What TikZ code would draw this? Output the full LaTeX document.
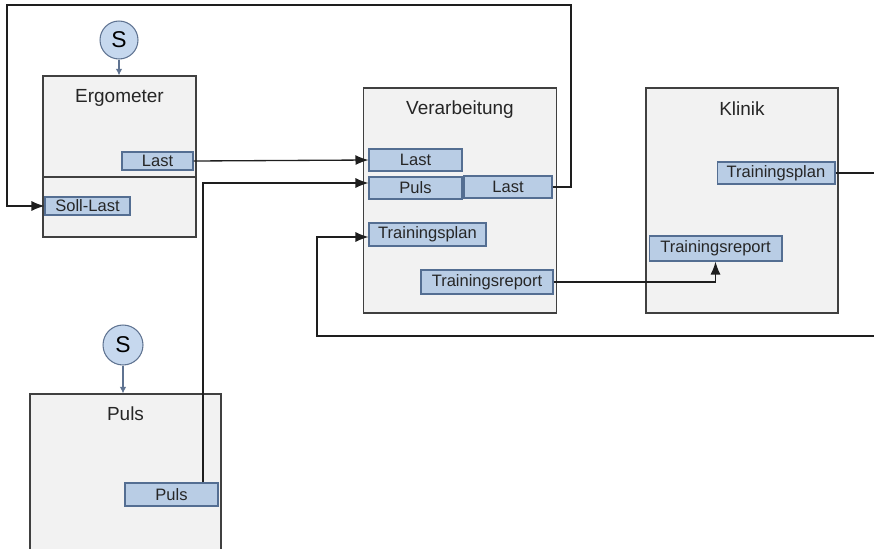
\documentclass[tikz,border=0pt]{standalone}
\usepackage{fontspec}
\setmainfont{Liberation Sans}
\usepackage{tikz}
\usetikzlibrary{shapes, arrows.meta, positioning}

\definecolor{boxfill}{RGB}{242,242,242}
\definecolor{boxline}{RGB}{64,64,64}
\definecolor{portfill}{RGB}{185,205,229}
\definecolor{portline}{RGB}{84,110,146}
\definecolor{srcfill}{RGB}{198,216,238}
\definecolor{srcline}{RGB}{95,115,145}
\definecolor{wire}{RGB}{30,30,30}

\tikzset{
  block/.style={draw=boxline, line width=0.7pt, fill=boxfill, rectangle, minimum width=38.6mm, minimum height=45mm},
  title/.style={inner sep=0pt, text=black!85, font=\fontsize{10.8}{13}\selectfont},
  port/.style={draw=portline, line width=0.6pt, fill=portfill, rectangle, minimum height=4.4mm, inner sep=1pt, text=black!85, font=\fontsize{9.4}{11}\selectfont},
  source/.style={draw=srcline, line width=0.6pt, fill=srcfill, circle, minimum size=7.8mm, inner sep=0pt, font=\fontsize{13}{15}\selectfont},
  flow/.style={draw=wire, line width=0.75pt, -{Latex[length=2.6mm,width=2mm]}},
  wireline/.style={draw=wire, line width=0.75pt},
  sig/.style={draw=srcline, line width=0.6pt, -{Latex[length=1.3mm,width=1.3mm]}}
}

\begin{document}
\begin{tikzpicture}[x=0.02cm, y=-0.02cm]
        \clip (0,0) rectangle (874,548);

        % Nodes
        \node (ergo) [block, minimum width=30.6mm, minimum height=32.2mm] at (119.5,156.5) {};
        \node (verar) [block] at (460,200.5) {};
        \node (klinik) [block, minimum width=38.4mm] at (742,200.5) {};
        \node (puls) [block, minimum width=38.2mm, minimum height=32.2mm] at (125.5,474.5) {};

        \node (ergotitle) [title, below=2.8mm of ergo.north] {Ergometer};
        \node (verartitle) [title, below=2.6mm of verar.north] {Verarbeitung};
        \node (klinictitle) [title, below=2.8mm of klinik.north] {Klinik};
        \node (pulstitle) [title, below=2.5mm of puls.north] {Puls};

        \draw[boxline, line width=0.7pt] ([yshift=-4.1mm]ergo.west) -- ([yshift=-4.1mm]ergo.east);

        % Ports
        \node (elast) [port, minimum width=14.2mm, minimum height=3.6mm] at (157.5,161) {Last};
        \node (esoll) [port, minimum width=17mm, minimum height=3.6mm] at (87.5,206) {Soll-Last};
        \node (vlast) [port, minimum width=18.6mm] at (415.5,160) {Last};
        \node (vpuls) [port, minimum width=18.6mm] at (415.5,188) {Puls};
        \node (vlastout) [port, minimum width=17.6mm] at (508,187) {Last};
        \node (vplan) [port, minimum width=23.4mm, minimum height=4.6mm] at (427.5,234.5) {Trainingsplan};
        \node (vreport) [port, minimum width=26.4mm, minimum height=4.8mm] at (487,282) {Trainingsreport};
        \node (kplan) [port, minimum width=23.6mm] at (776,173) {Trainingsplan};
        \node (kreport) [port, minimum width=26.6mm, minimum height=5mm] at (715.5,248.5) {Trainingsreport};
        \node (ppuls) [port, minimum width=18.6mm, minimum height=4.6mm] at (171.5,494.5) {Puls};

        % Sources
        \node (sergo) [source, minimum size=7.6mm] at (119,40) {S};
        \node (spuls) [source, minimum size=8mm] at (123,345) {S};

        % Helper points
        \coordinate (fbr) at (571,5);
        \coordinate (fbl) at (7,5);
        \coordinate (pbend) at (203,183);
        \coordinate (ret) at (317,336);
        \coordinate (redge) at (880,0);

        % Arrows
        \draw[sig] (sergo.south) -- (sergo.south |- ergo.north);
        \draw[sig] (spuls.south) -- (spuls.south |- puls.north);
        \draw[flow] (elast.east) -- (vlast.west);
        \draw[flow] (ppuls.north -| pbend) -- (pbend) -- (pbend -| vpuls.west);
        \draw[flow] (vlastout.east) -| (fbr) -- (fbl) |- (esoll.west);
        \draw[flow] (vreport.east) -| (kreport.south);
        \draw[wireline] (kplan.east) -- (kplan.east -| redge);
        \draw[flow] (ret -| redge) -- (ret) |- ([yshift=-0.5mm]vplan.west);
    \end{tikzpicture}
\end{document}
